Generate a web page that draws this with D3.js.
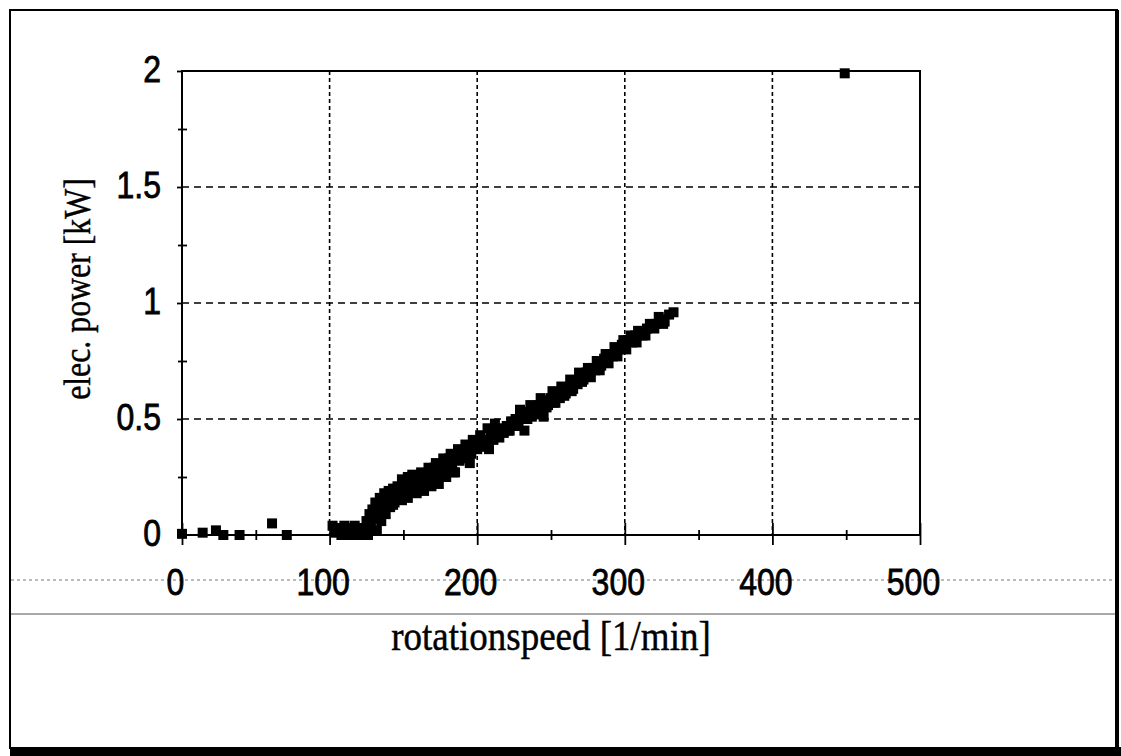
<!DOCTYPE html>
<meta charset="utf-8">
<head>
<title>power curve</title>
<script src="https://cdn.jsdelivr.net/npm/d3@7/dist/d3.min.js"></script>
<style>
  body { margin: 0; background: #fff; }
</style>
</head>
<body>

<div id="chart"></div>

<script lang="javascript">

const width = 1121;
const height = 756;

const speed = [
  0, 14, 23, 28, 39, 61, 71,
  102, 104, 106, 108, 110, 111, 113, 114, 116, 117, 118, 120, 121, 122,
  124, 125, 126, 127, 128, 129, 130, 131, 132, 133, 134, 135, 136, 137, 138, 139,
  140, 141, 142, 143, 144, 145, 146, 147, 148, 150, 151, 152, 154, 155, 157, 158,
  160, 161, 163, 165, 166, 168, 170, 171, 173, 175, 176, 178, 180, 181, 183, 185,
  186, 188, 190, 191, 193, 195, 196, 198, 200, 201, 203, 205, 206, 208, 209, 211,
  213, 215, 216, 218, 220, 221, 223, 225, 226, 228, 230, 232, 233, 235, 237, 239,
  240, 242, 245, 244, 246, 248, 250, 252, 254, 256, 258, 260, 262, 264, 266, 268,
  270, 272, 274, 276, 278, 280, 282, 284, 286, 288, 290, 292, 294, 296, 298, 300,
  302, 305, 307, 310, 312, 315, 318, 321, 324, 327, 330, 333,
  143, 149, 153, 159, 164, 169, 174, 179, 184,
  149, 153, 156, 162, 167, 172, 177, 182, 187, 192, 197, 202, 207, 212,
  229, 236, 243, 251, 257, 263, 269, 275, 281, 287, 293, 299, 304, 309, 317, 323,
  222, 227, 234, 241, 247, 253, 259, 265, 271, 277, 283, 289, 295, 301, 308, 314, 320, 326,
  449
];
const power = [
  0.005, 0.01, 0.02, 0.0, 0.0, 0.05, 0.0,
  0.04, 0.01, 0.03, 0.0, 0.04, 0.015, 0.03, 0.0, 0.02, 0.04, 0.0, 0.01, 0.03, 0.0,
  0.02, 0.06, 0.0, 0.09, 0.04, 0.11, 0.07, 0.14, 0.02, 0.1, 0.16, 0.06, 0.13, 0.18, 0.09, 0.15,
  0.19, 0.12, 0.17, 0.2, 0.14, 0.18, 0.21, 0.16, 0.2, 0.22, 0.18, 0.2, 0.23, 0.19, 0.21, 0.24,
  0.2, 0.25, 0.22, 0.26, 0.23, 0.27, 0.24, 0.29, 0.26, 0.3, 0.27, 0.31, 0.28, 0.33, 0.3, 0.27,
  0.34, 0.32, 0.36, 0.33, 0.37, 0.31, 0.35, 0.39, 0.37, 0.4, 0.38, 0.41, 0.39, 0.37, 0.43, 0.41,
  0.44, 0.42, 0.46, 0.44, 0.47, 0.45, 0.49, 0.47, 0.5, 0.48, 0.51, 0.45, 0.5, 0.53, 0.51, 0.55,
  0.53, 0.56, 0.51, 0.54, 0.58, 0.56, 0.59, 0.57, 0.6, 0.59, 0.62, 0.61, 0.63, 0.62, 0.66, 0.65,
  0.68, 0.67, 0.7, 0.69, 0.72, 0.71, 0.74, 0.73, 0.76, 0.75, 0.78, 0.77, 0.79, 0.8, 0.82, 0.81,
  0.84, 0.83, 0.86, 0.87, 0.86, 0.89, 0.9, 0.91, 0.93, 0.92, 0.95, 0.96,
  0.13, 0.15, 0.16, 0.18, 0.19, 0.21, 0.22, 0.25, 0.27,
  0.24, 0.25, 0.26, 0.27, 0.29, 0.31, 0.33, 0.35, 0.37, 0.39, 0.41, 0.43, 0.46, 0.48,
  0.54, 0.56, 0.59, 0.62, 0.64, 0.67, 0.7, 0.72, 0.75, 0.78, 0.81, 0.84, 0.86, 0.88, 0.91, 0.94,
  0.45, 0.47, 0.5, 0.52, 0.55, 0.57, 0.6, 0.63, 0.66, 0.68, 0.71, 0.74, 0.77, 0.8, 0.83, 0.86, 0.89, 0.91,
  1.99
];

const xTicks = [0, 100, 200, 300, 400, 500];
const xMinor = [50, 150, 250, 350, 450];
const yTicks = [0, 0.5, 1, 1.5, 2];
const yMinor = [0.25, 0.75, 1.25, 1.75];

const data = speed.map((s, i) => ({ s: s, p: power[i] }));

const svg = d3.select('#chart')
  .append("svg")
  .attr("width", width)
  .attr("height", height)
  .attr("viewBox", [0, 0, width, height]);

const x = d3.scaleLinear().domain([0, 500]).range([182, 920]);
const y = d3.scaleLinear().domain([0, 2]).range([535, 71]);

// page frame of the scan, with the heavy shadow right and bottom
svg.append("rect")
  .attr("x", 10).attr("y", 10)
  .attr("width", 1107).attr("height", 738)
  .attr("fill", "none").attr("stroke", "#000").attr("stroke-width", 2);
svg.append("rect")
  .attr("x", 1115).attr("y", 10).attr("width", 4).attr("height", 746)
  .attr("fill", "#000");
svg.append("rect")
  .attr("x", 10).attr("y", 747).attr("width", 1111).attr("height", 9)
  .attr("fill", "#000");

// stray scan lines under the axis
svg.append("line")
  .attr("x1", 11).attr("x2", 1115).attr("y1", 580).attr("y2", 580)
  .attr("stroke", "#777").attr("stroke-width", 1).attr("stroke-dasharray", "3,3");
svg.append("line")
  .attr("x1", 11).attr("x2", 1115).attr("y1", 614).attr("y2", 614)
  .attr("stroke", "#555").attr("stroke-width", 1.2);

// gridlines
svg.append("g")
  .selectAll("line")
  .data(xTicks.slice(1, -1))
  .join("line")
    .attr("x1", d => x(d)).attr("x2", d => x(d))
    .attr("y1", y(2)).attr("y2", y(0))
    .attr("stroke", "#000").attr("stroke-width", 1.6)
    .attr("stroke-dasharray", "4,3");

svg.append("g")
  .selectAll("line")
  .data(yTicks.slice(1, -1))
  .join("line")
    .attr("x1", x(0)).attr("x2", x(500))
    .attr("y1", d => y(d)).attr("y2", d => y(d))
    .attr("stroke", "#000").attr("stroke-width", 1.6)
    .attr("stroke-dasharray", "7,5");

// axes
const xAxis = svg.append("g")
  .attr("transform", `translate(0,${y(0)})`)
  .call(d3.axisBottom(x).tickValues(xTicks).tickSize(10).tickSizeOuter(0).tickFormat(d3.format("d")));
svg.append("g")
  .attr("transform", `translate(0,${y(0)})`)
  .call(d3.axisTop(x).tickValues(xTicks).tickSize(12).tickSizeOuter(0).tickFormat(""));
svg.append("g")
  .attr("transform", `translate(0,${y(0)})`)
  .call(d3.axisBottom(x).tickValues(xMinor).tickSize(5).tickSizeOuter(0).tickFormat(""));
svg.append("g")
  .attr("transform", `translate(0,${y(0)})`)
  .call(d3.axisTop(x).tickValues(xMinor).tickSize(5).tickSizeOuter(0).tickFormat(""));

const yAxis = svg.append("g")
  .attr("transform", `translate(${x(0)},0)`)
  .call(d3.axisLeft(y).tickValues(yTicks).tickSize(5).tickSizeOuter(0).tickFormat(d3.format("")));
svg.append("g")
  .attr("transform", `translate(${x(0)},0)`)
  .call(d3.axisLeft(y).tickValues(yMinor).tickSize(4).tickSizeOuter(0).tickFormat(""));
svg.append("g")
  .attr("transform", `translate(${x(0)},0)`)
  .call(d3.axisRight(y).tickValues(yMinor).tickSize(5).tickSizeOuter(0).tickFormat(""));

svg.selectAll(".domain").remove();
svg.selectAll(".tick line").attr("stroke", "#000").attr("stroke-width", 1.8);

xAxis.selectAll("text")
  .attr("y", 52).attr("dy", null)
  .attr("transform", "translate(-7,0) scale(1,1.15)")
  .style("font", "32px 'Liberation Sans', Arial, sans-serif")
  .attr("fill", "#000").attr("stroke", "#000").attr("stroke-width", 0.7);

yAxis.selectAll("text")
  .attr("x", -21).attr("dy", null).attr("y", 9.5)
  .attr("transform", "scale(1,1.15)")
  .style("font", "32px 'Liberation Sans', Arial, sans-serif")
  .attr("fill", "#000").attr("stroke", "#000").attr("stroke-width", 0.7);

// plot frame
svg.append("rect")
  .attr("x", x(0)).attr("y", y(2))
  .attr("width", x(500) - x(0)).attr("height", y(0) - y(2))
  .attr("fill", "none").attr("stroke", "#000").attr("stroke-width", 2);

// markers
svg.append("g")
  .selectAll("rect")
  .data(data)
  .join("rect")
    .attr("x", d => x(d.s) - 5)
    .attr("y", d => y(d.p) - 5)
    .attr("width", 10)
    .attr("height", 10)
    .attr("fill", "#000");

// axis titles
svg.append("text")
  .attr("transform", "translate(551,650) scale(1,1.12)")
  .attr("text-anchor", "middle")
  .style("font", "37px 'Liberation Serif', 'Times New Roman', serif")
  .attr("stroke", "#000").attr("stroke-width", 0.4)
  .text("rotationspeed [1/min]");

svg.append("text")
  .attr("transform", "translate(90,289) scale(1,0.86) rotate(-90)")
  .attr("text-anchor", "middle")
  .style("font", "37px 'Liberation Serif', 'Times New Roman', serif")
  .attr("stroke", "#000").attr("stroke-width", 0.4)
  .text("elec. power [kW]");

</script>

</body>
